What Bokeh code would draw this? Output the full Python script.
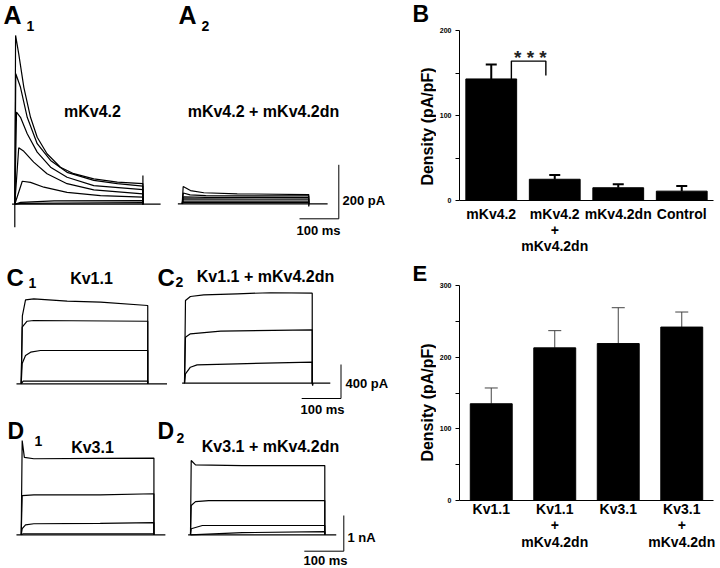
import math
from bokeh.plotting import figure
from bokeh.layouts import row, column
from bokeh.models import (Range1d, Label, ColumnDataSource, Whisker, TeeHead,
                          FixedTicker, LinearAxis)
from bokeh.embed import file_html
from bokeh.resources import INLINE

FONT = "Liberation Sans"

# ---------------- bar chart data ----------------
B_cats = ["mKv4.2", "mKv4.2 + mKv4.2dn", "mKv4.2dn", "Control"]
B_lines = [["mKv4.2"], ["mKv4.2", "+", "mKv4.2dn"], ["mKv4.2dn"], ["Control"]]
B_vals = [143, 25, 15, 11]
B_errs = [17, 5, 4, 6]
B_ticks = [0, 100, 200]
B_minor = [50, 150]
B_sig_top = 164
B_sig_right = 147

E_cats = ["Kv1.1", "Kv1.1 + mKv4.2dn", "Kv3.1", "Kv3.1 + mKv4.2dn"]
E_lines = [["Kv1.1"], ["Kv1.1", "+", "mKv4.2dn"], ["Kv3.1"], ["Kv3.1", "+", "mKv4.2dn"]]
E_vals = [135, 213, 219, 242]
E_errs = [22, 24, 50, 21]
E_ticks = [0, 100, 200, 300]
E_minor = [50, 150, 250]

Y_TITLE = "Density (pA/pF)"

# ---------------- current traces (ms, pA / nA) ----------------
A1_t = [[0, 2, 10, 23, 40, 57, 82, 116, 150, 201, 261, 326],
        [0, 2.5, 14.5, 31.6, 57, 91, 133, 201, 261, 326],
        [0, 4.4, 14.5, 31.6, 57, 91, 133, 201, 326],
        [0, 10, 23, 48, 82, 133, 201, 326],
        [0, 19, 40, 74, 133, 218, 326],
        [0, 15, 100, 326],
        [0, 15, 326]]
A1_I = [[0, 625, 557, 433, 322, 248, 187, 137, 113, 94, 82, 76],
        [0, 483, 433, 322, 224, 162, 118, 88, 76, 67],
        [0, 341, 322, 261, 193, 137, 100, 69, 54],
        [0, 209, 196, 156, 113, 76, 53, 38],
        [0, 85, 81, 63, 44, 32, 26],
        [0, 7, 12, 13],
        [0, 3, 6]]
A1_base_t = [-7, 0, 0, 0, 326, 326, 326, 371]
A1_base_I = [0, 0, -85, 0, 0, 106, 0, 0]

A2_t = [[0, 2.5, 21, 55, 140, 322], [0, 3, 20, 60, 322], [0, 3, 60, 322],
        [0, 3, 322], [0, 3, 322], [0, 3, 322]]
A2_I = [[0, 64, 49, 41, 37, 34], [0, 40, 33, 30, 29], [0, 26, 24, 23],
        [0, 18, 17], [0, 10, 10], [0, 4, 4]]
A2_base_t = [-11, 322, 322, 323, 370]
A2_base_I = [0, 0, -10, 0, 0]

C1_t = [[0, 3, 11, 32, 117, 202, 322], [0, 2.5, 15, 32, 322],
        [0, 2.5, 11, 24, 49, 202, 322], [0, 5, 322]]
C1_I = [[0, 800, 988, 1000, 972, 960, 921], [0, 666, 736, 745, 736],
        [0, 239, 333, 372, 392, 392, 392], [0, 31, 31]]
C1_base_t = [-12, 371]
C1_base_I = [0, 0]

C2_t = [[0, 2.5, 15, 49, 134, 219, 325], [0, 2.5, 15, 92, 325],
        [0, 2.5, 15, 32, 134, 325]]
C2_I = [[0, 973, 1020, 1040, 1052, 1064, 1059], [0, 541, 581, 612, 628],
        [0, 111, 188, 216, 228, 247]]
C2_base_t = [-6, 325, 326, 327, 371]
C2_base_I = [0, 0, -30, 0, 0]

D1_t = [[0, 2.5, 8, 32, 200, 336], [0, 2.5, 32, 200, 336],
        [0, 2.5, 11, 32, 200, 336], [0, 5, 336]]
D1_I = [[0, 2.64, 2.17, 2.13, 2.14, 2.15], [0, 1.10, 1.12, 1.12, 1.15],
        [0, 0.17, 0.28, 0.31, 0.32, 0.34], [0, 0.03, 0.03]]
D1_base_t = [-12, 365]
D1_base_I = [0, 0]

D2_t = [[0, 1.8, 12.7, 131, 340], [0, 1.8, 12.7, 46, 340],
        [0, 1.8, 30, 340], [0, 131, 340]]
D2_I = [[0, 2.08, 1.96, 1.94, 1.94], [0, 0.82, 0.93, 0.96, 0.96],
        [0, 0.17, 0.26, 0.26], [0, 0.06, 0.09]]
D2_base_t = [-6, 340, 369]
D2_base_I = [0, 0, 0]

SCALE_T = 100      # ms
SCALE_A = 200      # pA
SCALE_C = 400      # pA
SCALE_D = 1        # nA


def trace_row(w, h, top, o1, o2, sx, sy):
    """One figure per row; panel 1 on the default ranges, panel 2 on 'p2'."""
    p = figure(width=w, height=h,
               x_range=Range1d((0 - o1[0]) / sx, (w - o1[0]) / sx),
               y_range=Range1d((o1[1] - top - h) / sy, (o1[1] - top) / sy),
               output_backend="svg", toolbar_location=None,
               x_axis_location=None, y_axis_location=None,
               min_border=0, outline_line_color=None)
    p.extra_x_ranges = {"p2": Range1d((0 - o2[0]) / sx, (w - o2[0]) / sx)}
    p.extra_y_ranges = {"p2": Range1d((o2[1] - top - h) / sy,
                                      (o2[1] - top) / sy)}
    p.grid.visible = False
    p.background_fill_color = "white"
    p.border_fill_color = "white"

    def conv(X, Y):
        return (X - o1[0]) / sx, (o1[1] - Y) / sy
    return p, conv


def draw_traces(p, ts, Is, bt, bI, rng="default", lw=1.2):
    xs = [list(t) + [t[-1]] for t in ts]
    ys = [list(i) + [0] for i in Is]
    p.multi_line(xs=xs, ys=ys, line_color="black", line_width=lw,
                 x_range_name=rng, y_range_name=rng)
    p.line(bt, bI, line_color="black", line_width=lw,
           x_range_name=rng, y_range_name=rng)


def lab(p, conv, X, Y, s, size, align="left", weight="bold", angle=0.0,
        color="black"):
    # (X, Y): left/centre x and vertical centre of the text, in page pixels
    x, y = conv(X, Y)
    p.add_layout(Label(x=x, y=y, text=s, text_font=FONT,
                       text_font_size=f"{size}px", text_font_style=weight,
                       text_align=align, text_baseline="middle",
                       text_color=color, angle=angle))


def scale_bar(p, conv, X, Y, dt, dI):
    ct, cI = conv(X, Y)
    p.line([ct - dt, ct, ct], [cI, cI, cI + dI], line_color="black",
           line_width=1)


# ---- row A ----
pA, cA = trace_row(400, 250, 0, (14.3, 203.7), (181.7, 203.3), 0.393, 0.27)
draw_traces(pA, A1_t, A1_I, A1_base_t, A1_base_I)
draw_traces(pA, A2_t, A2_I, A2_base_t, A2_base_I, rng="p2")
lab(pA, cA, 3, 14, "A", 25)
lab(pA, cA, 26, 25, "1", 14)
lab(pA, cA, 178, 14, "A", 25)
lab(pA, cA, 201, 25, "2", 14)
lab(pA, cA, 92, 111, "mKv4.2", 16, align="center")
lab(pA, cA, 263, 111, "mKv4.2 + mKv4.2dn", 16, align="center")
scale_bar(pA, cA, 338.3, 218.3, SCALE_T, SCALE_A)
lab(pA, cA, 342, 199.5, f"{SCALE_A} pA", 13)
lab(pA, cA, 318, 230, f"{SCALE_T} ms", 13, align="center")

# ---- row C ----
pC, cC = trace_row(400, 167, 250, (20.7, 383.3), (184, 382.7), 0.393, 0.085)
draw_traces(pC, C1_t, C1_I, C1_base_t, C1_base_I)
draw_traces(pC, C2_t, C2_I, C2_base_t, C2_base_I, rng="p2")
lab(pC, cC, 6, 277, "C", 24)
lab(pC, cC, 28, 282.5, "1", 14)
lab(pC, cC, 157, 277, "C", 24)
lab(pC, cC, 175, 281, "2", 14)
lab(pC, cC, 91, 278, "Kv1.1", 16, align="center")
lab(pC, cC, 265, 276, "Kv1.1 + mKv4.2dn", 16, align="center")
scale_bar(pC, cC, 340.5, 398, SCALE_T, SCALE_C)
lab(pC, cC, 345, 382.5, f"{SCALE_C} pA", 13)
lab(pC, cC, 322, 409, f"{SCALE_T} ms", 13, align="center")

# ---- row D ----
pD, cD = trace_row(400, 151, 417, (20.7, 534.3), (190, 534.3), 0.395, 35.7)
draw_traces(pD, D1_t, D1_I, D1_base_t, D1_base_I)
draw_traces(pD, D2_t, D2_I, D2_base_t, D2_base_I, rng="p2")
lab(pD, cD, 7, 430, "D", 23)
lab(pD, cD, 34, 440, "1", 14)
lab(pD, cD, 157, 430, "D", 23)
lab(pD, cD, 176, 437, "2", 14)
lab(pD, cD, 92, 447, "Kv3.1", 16, align="center")
lab(pD, cD, 270, 446, "Kv3.1 + mKv4.2dn", 16, align="center")
scale_bar(pD, cD, 343.3, 550.7, SCALE_T, SCALE_D)
lab(pD, cD, 347, 536.7, f"{SCALE_D} nA", 13)
lab(pD, cD, 325, 560, f"{SCALE_T} ms", 13, align="center")

# ---- strip with panel letters B/E and the rotated y titles ----
pS = figure(width=36, height=568, x_range=Range1d(400, 436),
            y_range=Range1d(568, 0), output_backend="svg",
            toolbar_location=None, x_axis_location=None,
            y_axis_location=None, min_border=0, outline_line_color=None)
pS.grid.visible = False
ident = lambda X, Y: (X, Y)
lab(pS, ident, 412, 13.5, "B", 23)
lab(pS, ident, 412, 272.5, "E", 22)
lab(pS, ident, 427, 126, Y_TITLE, 16, align="center", angle=math.pi / 2)
lab(pS, ident, 427, 402, Y_TITLE, 16, align="center", angle=math.pi / 2)


# ---------------- bar charts ----------------
def style_x_axis(ax, ticks, standoff, overrides, line_color):
    ax.ticker = FixedTicker(ticks=ticks, minor_ticks=[])
    ax.major_label_overrides = overrides
    ax.major_tick_out = 0
    ax.major_tick_in = 0
    ax.minor_tick_out = 0
    ax.minor_tick_in = 0
    ax.major_tick_line_color = None
    ax.minor_tick_line_color = None
    ax.major_label_standoff = standoff
    ax.major_label_text_font = FONT
    ax.major_label_text_font_style = "bold"
    ax.major_label_text_font_size = "14px"
    ax.major_label_text_color = "black"
    ax.axis_line_color = line_color


def bar_fig(cats, lines, vals, errs, ticks, minor, ymax, height, mtop, mbot,
            mright, bar_w, err_lw, err_color, head, standoffs):
    xs = [i + 0.5 for i in range(len(cats))]   # slot centres of the categories
    p = figure(width=284, height=height, x_range=Range1d(0, len(cats)),
               y_range=Range1d(0, ymax), output_backend="svg",
               toolbar_location=None, min_border_left=23,
               min_border_right=mright, min_border_top=mtop,
               min_border_bottom=mbot, outline_line_color=None)
    p.grid.visible = False
    p.vbar(x=xs, top=vals, width=bar_w, color="black")
    src = ColumnDataSource(dict(x=xs, top=vals,
                                up=[v + e for v, e in zip(vals, errs)]))
    p.add_layout(Whisker(source=src, base="x", lower="top", upper="up",
                         line_color=err_color, line_width=err_lw,
                         upper_head=TeeHead(size=head, line_color=err_color,
                                            line_width=err_lw),
                         lower_head=None))
    nlines = max(len(l) for l in lines)
    for k in range(nlines):
        over = {x: (l[k] if k < len(l) else "") for x, l in zip(xs, lines)}
        if k == 0:
            style_x_axis(p.xaxis[0], xs, standoffs[0], over, "black")
        else:
            ax = LinearAxis()
            style_x_axis(ax, xs, standoffs[k], over, None)
            p.add_layout(ax, "below")
    ya = p.yaxis[0]
    ya.ticker = FixedTicker(ticks=ticks, minor_ticks=minor)
    ya.major_tick_out = 4
    ya.major_tick_in = 0
    ya.minor_tick_out = 4
    ya.minor_tick_in = 0
    ya.major_label_standoff = 4
    ya.major_label_text_font = FONT
    ya.major_label_text_font_style = "bold"
    ya.major_label_text_font_size = "7px"
    ya.major_label_text_color = "black"
    ya.axis_line_color = "black"
    return p


pB = bar_fig(B_cats, B_lines, B_vals, B_errs, B_ticks, B_minor, 200, 256,
             30, 56, 3, 0.8, 2, "black", 11, [5, 0, 0])
pB.line(x=[0.817, 0.817, 1.36, 1.36],
        y=[B_vals[0], B_sig_top, B_sig_top, B_sig_right],
        line_color="black", line_width=1.4)
pB.add_layout(Label(x=1.116, y=168, text="* * *", text_font=FONT,
                    text_font_size="19px", text_font_style="bold",
                    text_align="center", text_baseline="middle",
                    text_color="#222222"))

pE = bar_fig(E_cats, E_lines, E_vals, E_errs, E_ticks, E_minor, 300, 312,
             29, 68, 7, 0.66, 1, "#444444", 13, [0, 0, 1])

left = column(pA, pC, pD)
right = column(pB, pE)
layout = row(left, pS, right)

open("out.html", "w").write(file_html(layout, INLINE))
